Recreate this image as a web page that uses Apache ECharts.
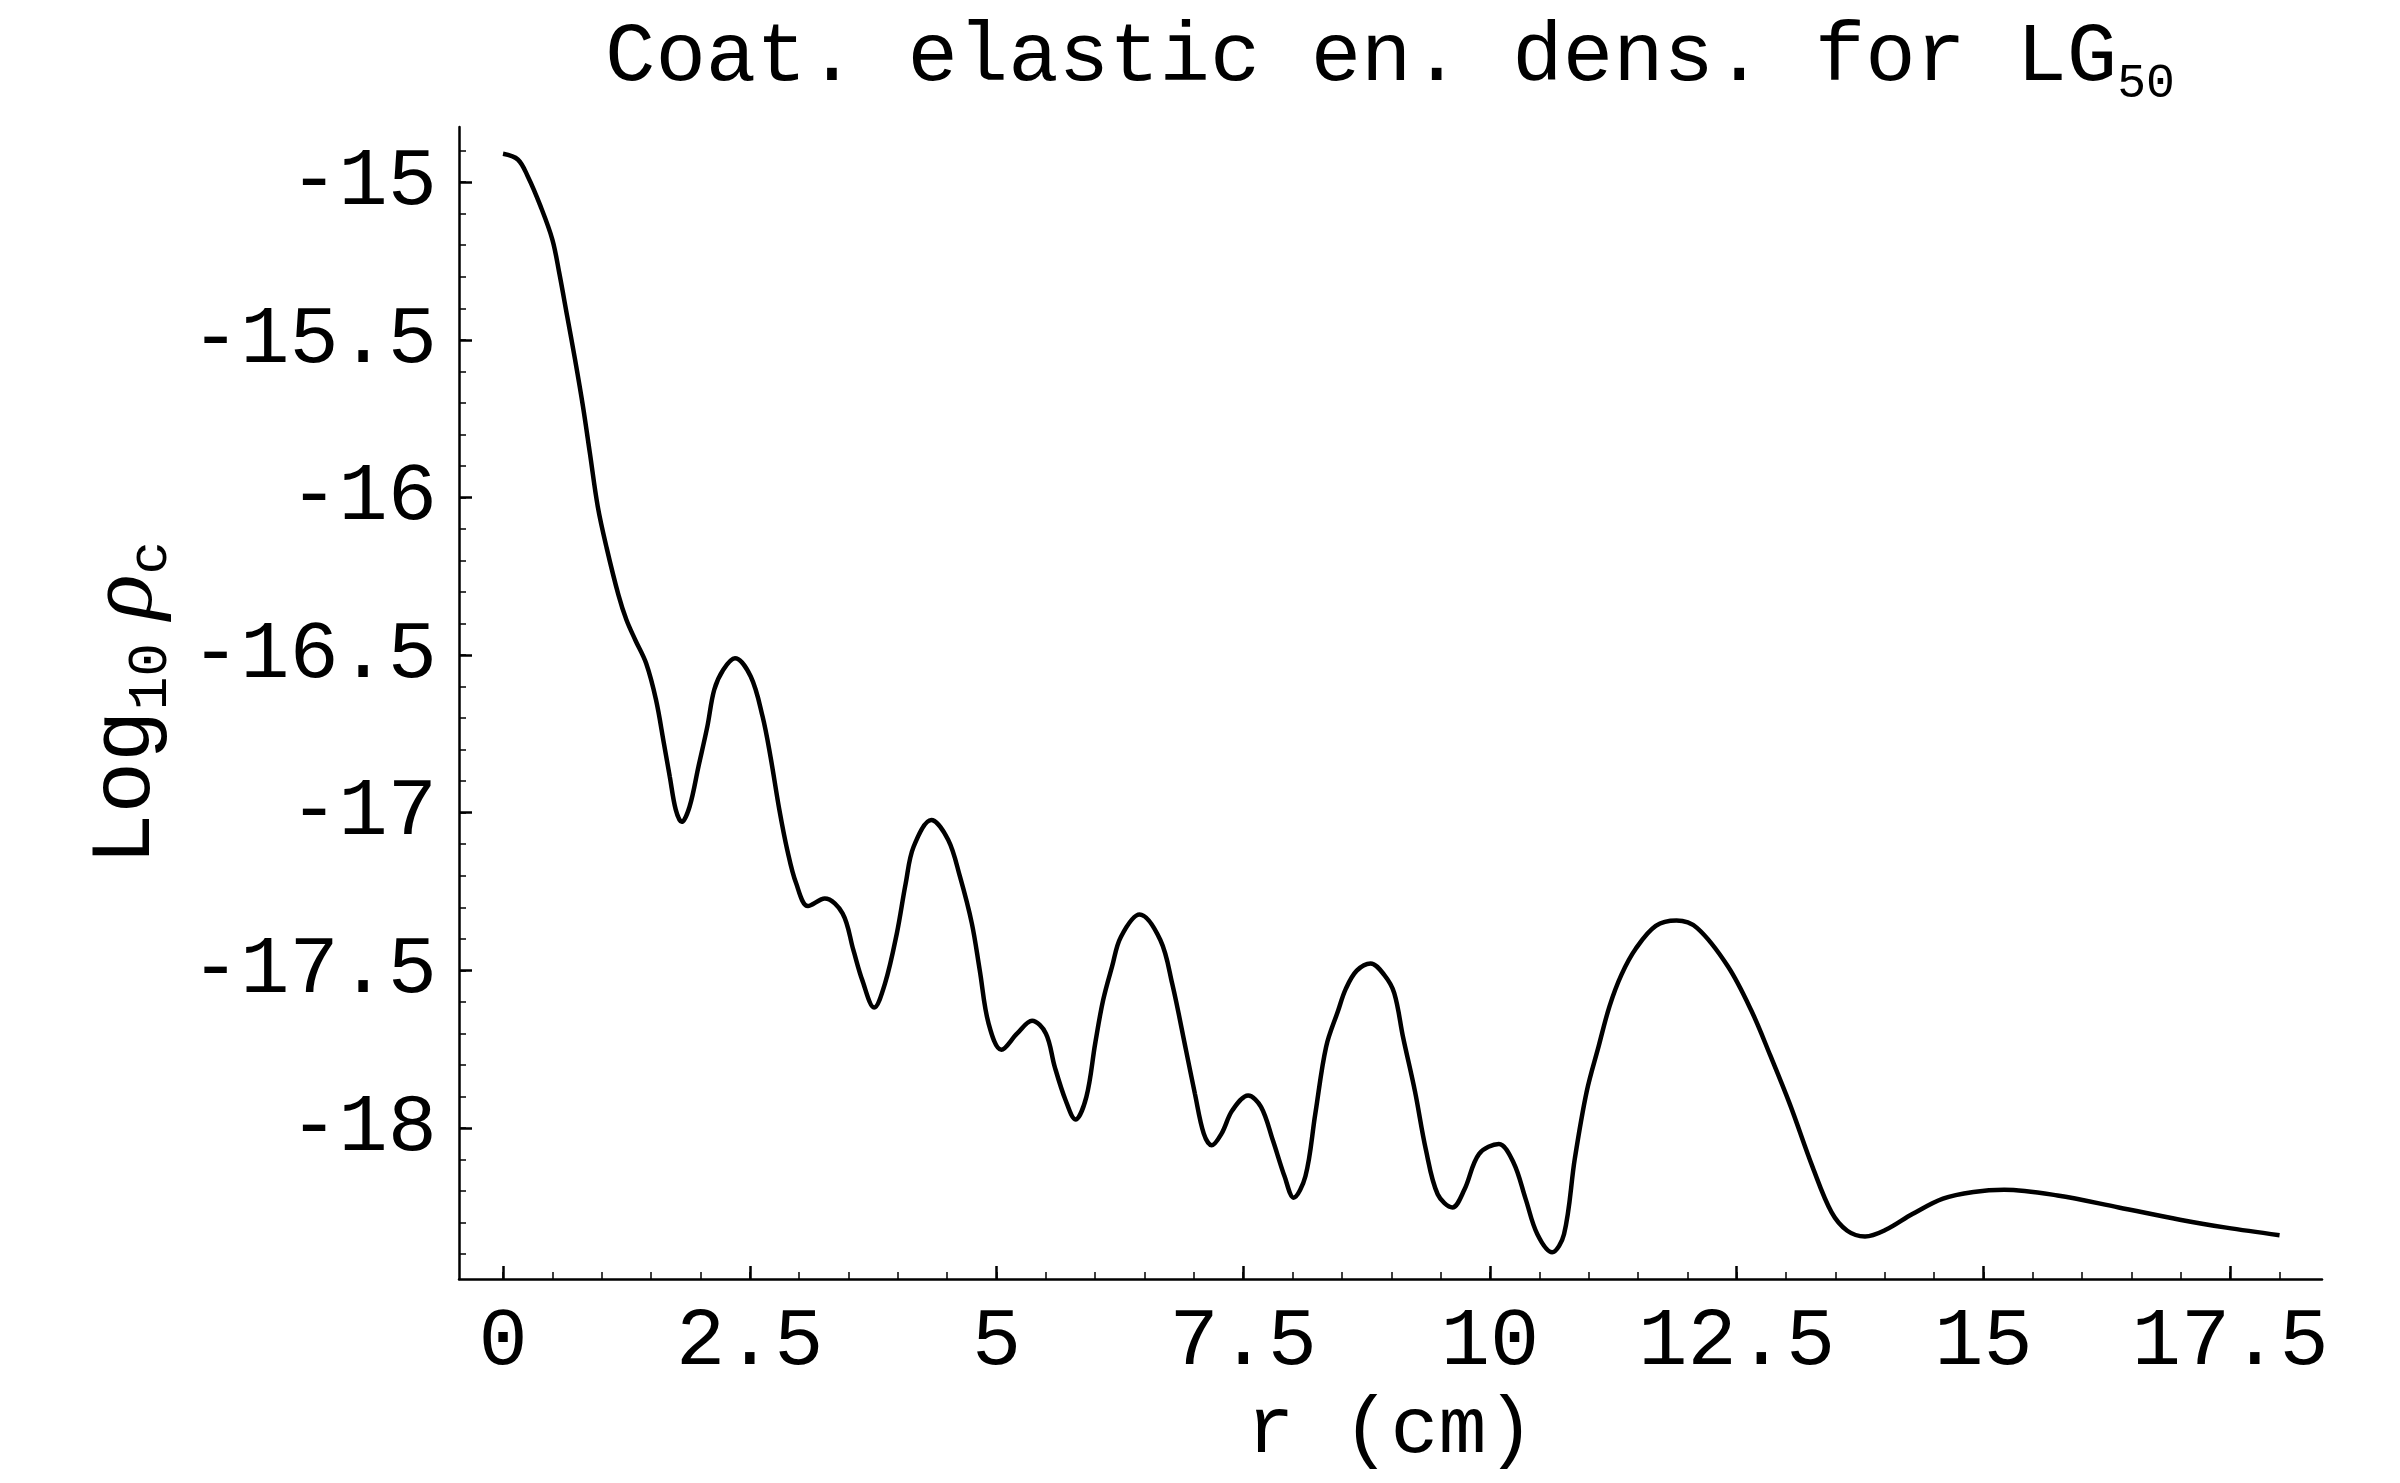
<!DOCTYPE html>
<html>
<head>
<meta charset="utf-8">
<script src="https://cdn.jsdelivr.net/npm/echarts@6/dist/echarts.min.js"></script>
<style>
html, body { margin: 0; padding: 0; background: #fff; }
#chart { width: 2400px; height: 1483px; }
</style>
</head>
<body>
<div id="chart"></div>
<script>
// r (cm)
const radius = [
    0.00, 0.15, 0.25, 0.38, 0.50, 0.57, 0.65, 0.73, 0.81, 0.88,
    0.96, 1.05, 1.17, 1.25, 1.34, 1.45, 1.55, 1.63, 1.69, 1.75,
    1.81, 1.89, 1.98, 2.07, 2.14, 2.23, 2.35, 2.51, 2.63, 2.71,
    2.80, 2.88, 2.97, 3.09, 3.26, 3.44, 3.55, 3.64, 3.76, 3.87,
    3.99, 4.08, 4.16, 4.34, 4.51, 4.63, 4.75, 4.83, 4.92, 5.05,
    5.21, 5.36, 5.50, 5.59, 5.70, 5.80, 5.91, 6.00, 6.08, 6.17,
    6.26, 6.45, 6.66, 6.78, 6.92, 7.01, 7.10, 7.18, 7.28, 7.39,
    7.55, 7.68, 7.80, 7.92, 8.01, 8.13, 8.23, 8.34, 8.46, 8.54,
    8.65, 8.79, 8.93, 9.03, 9.12, 9.24, 9.35, 9.47, 9.62, 9.74,
    9.89, 10.09, 10.24, 10.36, 10.48, 10.63, 10.75, 10.86, 10.98, 11.10,
    11.21, 11.33, 11.48, 11.68, 11.89, 12.10, 12.41, 12.65, 12.84, 13.04,
    13.27, 13.46, 13.62, 13.80, 14.01, 14.28, 14.59, 14.90, 15.21, 15.75,
    16.37, 16.99, 17.46, 18.00
];

// Log10 rho_c
const logDensity = [
    -14.910, -14.928, -14.981, -15.076, -15.182, -15.288, -15.425, -15.563, -15.711, -15.859,
    -16.029, -16.160, -16.310, -16.388, -16.452, -16.526, -16.642, -16.780, -16.886, -16.990,
    -17.029, -16.981, -16.854, -16.727, -16.610, -16.547, -16.510, -16.568, -16.695, -16.822,
    -16.991, -17.118, -17.224, -17.296, -17.272, -17.319, -17.436, -17.531, -17.618, -17.542,
    -17.383, -17.224, -17.108, -17.023, -17.086, -17.203, -17.351, -17.499, -17.669, -17.752,
    -17.700, -17.660, -17.700, -17.806, -17.912, -17.973, -17.902, -17.732, -17.595, -17.489,
    -17.394, -17.323, -17.404, -17.542, -17.753, -17.891, -18.018, -18.055, -18.018, -17.944,
    -17.897, -17.933, -18.039, -18.155, -18.221, -18.153, -17.955, -17.742, -17.629, -17.558,
    -17.501, -17.478, -17.515, -17.572, -17.713, -17.884, -18.068, -18.210, -18.252, -18.196,
    -18.082, -18.051, -18.111, -18.224, -18.337, -18.394, -18.337, -18.096, -17.884, -17.742,
    -17.615, -17.515, -17.430, -17.359, -17.342, -17.366, -17.487, -17.629, -17.770, -17.926,
    -18.125, -18.267, -18.326, -18.344, -18.323, -18.273, -18.224, -18.203, -18.196, -18.214,
    -18.252, -18.291, -18.316, -18.340
];

const xTickLabels = [0, 2.5, 5, 7.5, 10, 12.5, 15, 17.5];
const yTickLabels = [-18, -17.5, -17, -16.5, -16, -15.5, -15];

// minor ticks every 0.5 on r, every 0.1 on log
const xMinorTicks = Array.from({ length: 37 }, (_, i) => i * 0.5);
const yMinorTicks = Array.from({ length: 36 }, (_, i) => Math.round((-18.4 + i * 0.1) * 10) / 10);

const xRange = [-0.446, 18.43];
const yRange = [-18.479, -14.825];

const monoFont = '"Liberation Mono", "Courier New", monospace';
const serifFont = '"Liberation Serif", "DejaVu Serif", serif';

const chart = echarts.init(document.getElementById('chart'));

function majorAxis(range, ticks, extra) {
    return Object.assign({
        type: 'value',
        min: range[0],
        max: range[1],
        axisLine: { show: true, onZero: false, lineStyle: { color: '#000', width: 2.5 } },
        axisTick: { show: true, inside: true, length: 13, customValues: ticks, lineStyle: { color: '#000', width: 2.5 } },
        axisLabel: { show: true, customValues: ticks, color: '#000', fontFamily: monoFont, fontSize: 82 },
        splitLine: { show: false }
    }, extra);
}

function minorAxis(range, ticks, position) {
    return {
        type: 'value',
        position: position,
        min: range[0],
        max: range[1],
        axisLine: { show: false, onZero: false },
        axisTick: { show: true, inside: true, length: 7, customValues: ticks, lineStyle: { color: '#000', width: 1.5 } },
        axisLabel: { show: false },
        splitLine: { show: false }
    };
}

chart.setOption({
    animation: false,
    backgroundColor: '#fff',
    title: {
        text: '{t|Coat. elastic en. dens. for LG}{s|50}',
        left: 600,
        top: 3,
        textStyle: {
            fontFamily: monoFont,
            fontSize: 84,
            fontWeight: 'normal',
            color: '#000',
            rich: {
                t: { fontFamily: monoFont, fontSize: 84, fontWeight: 'normal', color: '#000', lineHeight: 100 },
                s: { fontFamily: monoFont, fontSize: 48, fontWeight: 'normal', color: '#000', lineHeight: 52, verticalAlign: 'bottom' }
            }
        }
    },
    grid: { left: 459, right: 78, top: 127, bottom: 204, containLabel: false },
    xAxis: [
        majorAxis(xRange, xTickLabels, {
            position: 'bottom',
            name: 'r (cm)',
            nameLocation: 'middle',
            nameGap: 112,
            nameTextStyle: { color: '#000', fontFamily: monoFont, fontSize: 80 },
            axisLabel: { show: true, customValues: xTickLabels, color: '#000', fontFamily: monoFont, fontSize: 82, margin: 22 }
        }),
        minorAxis(xRange, xMinorTicks, 'bottom')
    ],
    yAxis: [
        majorAxis(yRange, yTickLabels, {
            position: 'left',
            name: '{a|Log}{s|10}{g| ρ}{s|c}',
            nameLocation: 'middle',
            nameGap: 280,
            nameTextStyle: {
                fontFamily: monoFont,
                fontSize: 86,
                color: '#000',
                rich: {
                    a: { fontFamily: monoFont, fontSize: 86, color: '#000', lineHeight: 105 },
                    s: { fontFamily: monoFont, fontSize: 56, color: '#000', lineHeight: 52, verticalAlign: 'bottom' },
                    g: { fontFamily: serifFont, fontStyle: 'italic', fontSize: 94, color: '#000', lineHeight: 105 }
                }
            },
            axisLabel: { show: true, customValues: yTickLabels, color: '#000', fontFamily: monoFont, fontSize: 82, margin: 22 }
        }),
        minorAxis(yRange, yMinorTicks, 'left')
    ],
    series: [{
        type: 'line',
        xAxisIndex: 0,
        yAxisIndex: 0,
        data: radius.map((r, i) => [r, logDensity[i]]),
        showSymbol: false,
        smooth: 0.35,
        lineStyle: { color: '#000', width: 4.5 }
    }]
});
</script>
</body>
</html>
